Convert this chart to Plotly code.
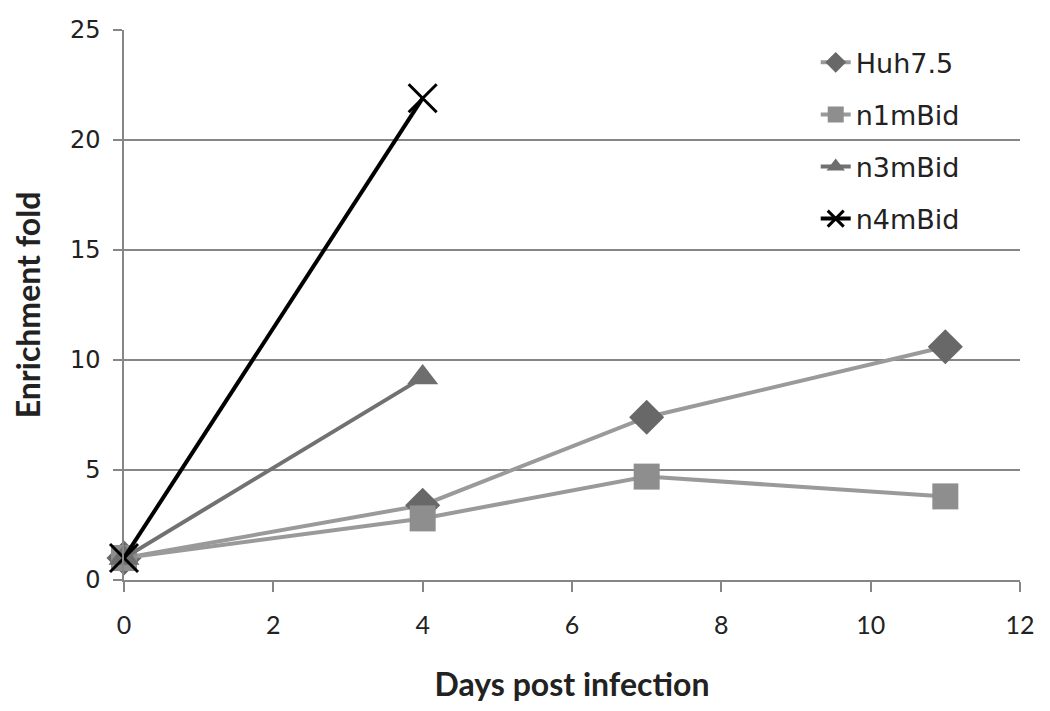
import plotly.graph_objects as go

# Datos
days_huh = [0, 4, 7, 11]
huh75 = [1, 3.4, 7.4, 10.6]

days_n1 = [0, 4, 7, 11]
n1mbid = [1, 2.8, 4.7, 3.8]

days_n3 = [0, 4]
n3mbid = [1, 9.2]

days_n4 = [0, 4]
n4mbid = [1, 21.9]

x_ticks = [0, 2, 4, 6, 8, 10, 12]
y_ticks = [0, 5, 10, 15, 20, 25]

axis_grey = '#868686'

fig = go.Figure()
fig.add_trace(go.Scatter(x=days_huh, y=huh75, name='Huh7.5', mode='lines+markers',
                         legendgroup='a', cliponaxis=False,
                         line=dict(color='#9a9a9a', width=4),
                         marker=dict(symbol='diamond', size=27, color='#686868')))
fig.add_trace(go.Scatter(x=days_n1, y=n1mbid, name='n1mBid', mode='lines+markers',
                         legendgroup='b', cliponaxis=False,
                         line=dict(color='#9a9a9a', width=4),
                         marker=dict(symbol='square', size=26, color='#8e8e8e')))
fig.add_trace(go.Scatter(x=days_n3, y=n3mbid, name='n3mBid', mode='lines+markers',
                         legendgroup='c', cliponaxis=False,
                         line=dict(color='#717171', width=4),
                         marker=dict(symbol='triangle-up', size=27, color='#6e6e6e')))
fig.add_trace(go.Scatter(x=days_n4, y=n4mbid, name='n4mBid', mode='lines+markers',
                         legendgroup='d', cliponaxis=False,
                         line=dict(color='#000000', width=4),
                         marker=dict(symbol='x-thin-open', size=28,
                                     line=dict(color='#000000', width=3))))

# la página añade 8px de margen, se compensa aquí
fig.update_layout(
    width=1050,
    height=711,
    plot_bgcolor='white',
    paper_bgcolor='white',
    margin={'l': 116, 'r': 38, 't': 22, 'b': 139},
    font=dict(family='DejaVu Sans', size=25, color='#222222'),
    legend=dict(x=0.772, y=0.985, xanchor='left', yanchor='top',
                bgcolor='rgba(0,0,0,0)', tracegroupgap=14,
                font=dict(family='DejaVu Sans', size=27, color='#222222')),
    xaxis=dict(range=[0, 12], tickvals=x_ticks, showgrid=False, zeroline=False,
               automargin=False,
               showline=True, linecolor=axis_grey, linewidth=1.5,
               ticks='outside', ticklen=10, tickcolor=axis_grey, tickwidth=1.5,
               ticklabelstandoff=12,
               tickfont=dict(family='Lato', size=25),
               title=dict(text='<b>Days post infection</b>', standoff=36,
                          font=dict(family='Lato', size=32))),
    yaxis=dict(range=[0, 25], tickvals=y_ticks, showgrid=True, gridcolor=axis_grey,
               gridwidth=1.5, zeroline=False, automargin=False,
               showline=True, linecolor=axis_grey, linewidth=1.5,
               ticks='outside', ticklen=9, tickcolor=axis_grey, tickwidth=1.5,
               ticklabelstandoff=8,
               tickfont=dict(family='DejaVu Sans', size=24),
               title=dict(text='<b>Enrichment fold</b>', standoff=27,
                          font=dict(family='Lato', size=32))),
)

fig.write_html("out.html")
